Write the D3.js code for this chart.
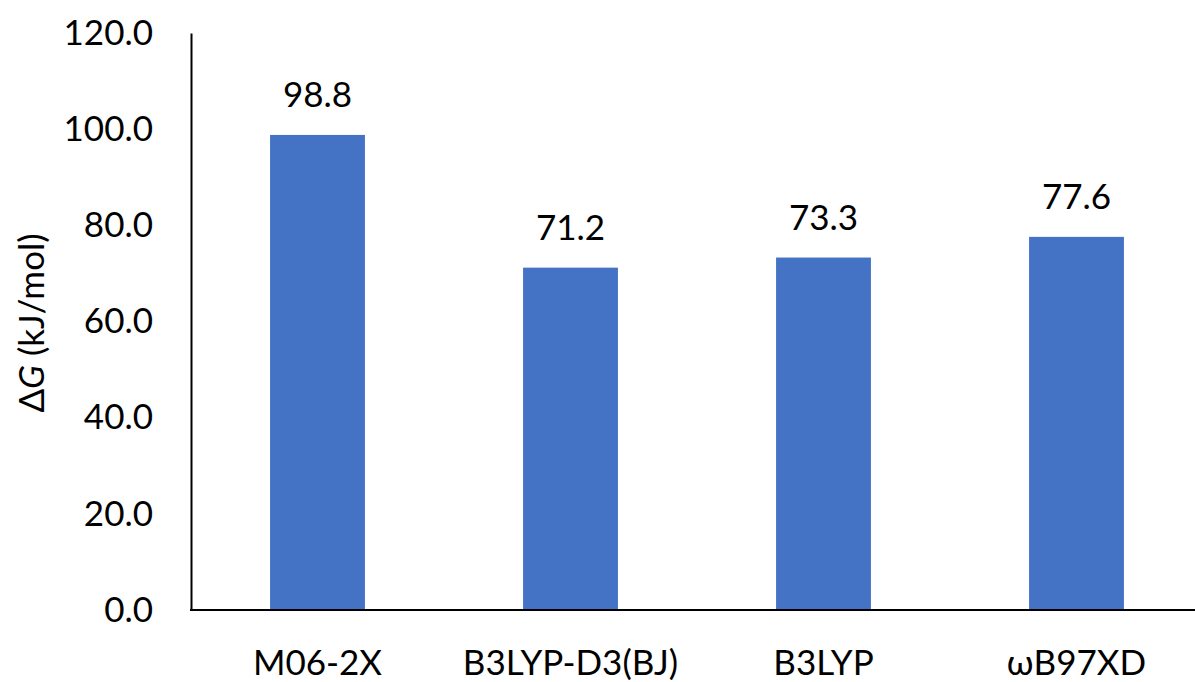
<!DOCTYPE html>
<html>
<head>
<meta charset="utf-8">
<script src="https://cdn.jsdelivr.net/npm/d3@7"></script>
<style>
  html, body { margin: 0; padding: 0; background: #fff; }
  svg { display: block; font-family: Lato, "Open Sans", sans-serif; }
</style>
</head>
<body>
<svg id="chart" width="1195" height="682"></svg>
<script>
const categories = ["M06-2X", "B3LYP-D3(BJ)", "B3LYP", "\u03c9B97XD"];
const values = [98.8, 71.2, 73.3, 77.6];
const yTicks = [0, 20, 40, 60, 80, 100, 120];

(function () {
const svg = d3.select("#chart");
const mLeft = 191, mRight = 1203, mTop = 33, mBottom = 610;
const fontSize = 35;

const x = d3.scaleBand().domain(categories).range([mLeft, mRight]).paddingInner(0.625).paddingOuter(0.3125);
const y = d3.scaleLinear().domain([0, 120]).range([mBottom, mTop]);

// bars
svg.selectAll("rect.bar").data(values).enter().append("rect")
  .attr("class", "bar")
  .attr("x", (d, i) => x(categories[i]))
  .attr("width", x.bandwidth())
  .attr("y", d => y(d))
  .attr("height", d => y(0) - y(d))
  .attr("fill", "#4472C4");

// value labels
svg.selectAll("text.val").data(values).enter().append("text")
  .attr("class", "val")
  .attr("x", (d, i) => x(categories[i]) + x.bandwidth() / 2)
  .attr("y", d => y(d) - 28)
  .attr("text-anchor", "middle")
  .attr("font-size", fontSize)
  .attr("fill", "#000")
  .text(d => d.toFixed(1));

// y axis
const yAxis = d3.axisLeft(y).tickValues(yTicks).tickFormat(d3.format(".1f")).tickSize(0).tickPadding(38);
const gy = svg.append("g").attr("transform", `translate(${mLeft},0)`).call(yAxis);
gy.select(".domain").attr("stroke", "#000").attr("stroke-width", 2);
gy.selectAll("text").attr("font-size", fontSize).attr("font-family", "Lato, 'Open Sans', sans-serif").attr("fill", "#000");

// x axis
const xAxis = d3.axisBottom(x).tickSize(0).tickPadding(40);
const gx = svg.append("g").attr("transform", `translate(0,${mBottom})`).call(xAxis);
gx.select(".domain").remove();
gx.append("line").attr("x1", mLeft - 1).attr("x2", 1195).attr("y1", 0).attr("y2", 0)
  .attr("stroke", "#000").attr("stroke-width", 2);
gx.selectAll("text").attr("font-size", fontSize).attr("font-family", "Lato, 'Open Sans', sans-serif").attr("fill", "#000");

// y axis title
const yt = svg.append("text")
  .attr("transform", `translate(44,323) rotate(-90)`)
  .attr("text-anchor", "middle")
  .attr("font-size", 35)
  .attr("fill", "#000");
yt.append("tspan").text("\u0394");
yt.append("tspan").attr("font-style", "italic").text("G");
yt.append("tspan").text(" (kJ/mol)");
})();
</script>
</body>
</html>
